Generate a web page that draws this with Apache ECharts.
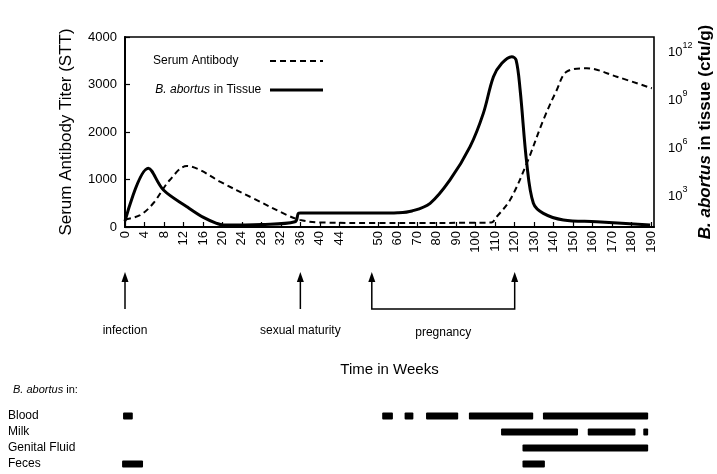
<!DOCTYPE html>
<html><head><meta charset="utf-8">
<script src="https://cdn.jsdelivr.net/npm/echarts@6/dist/echarts.min.js"></script>
<style>html,body{margin:0;padding:0;background:#fff}#c{width:717px;height:474px}</style>
</head><body><div id="c"></div>
<script>
// ---- data ----
const tickWeeks = [0,4,8,12,16,20,24,28,32,36,40,44,50,60,70,80,90,100,110,120,130,140,150,160,170,180,190];
const titerTicks = [0,1000,2000,3000,4000];
const cfuTickExponents = [3,6,9,12];

const serumWeeks = [0,3.1,5.8,9.2,12.7,15.4,19.5,26.3,33.2,35.9,40,50,70,100,108,110.8,117.6,126.2,134.7,141.6,146.7,157,172.4,190.4];
const serumTiter = [160,250,500,990,1285,1200,955,605,255,150,95,85,85,90,95,217,568,1340,2253,2884,3270,3340,3164,2920];

const tissueWeeks = [0,4.8,7.9,12.7,16.1,18.8,20.2,28,34.9,35.6,36,50,60,67.3,76.6,86.8,97.1,103.9,109.1,113.4,118.5,120.7,122.8,126.2,129.6,134.7,145,162,189.5];
const tissueLogCfu = [1.3,4.61,3.25,2.21,1.54,1.17,1.06,1.1,1.27,1.79,1.81,1.81,1.83,1.94,2.42,3.88,5.96,8.04,10.33,11.17,11.58,11.38,9.5,4.92,2.42,1.79,1.38,1.27,1.06];

const sheddingSites = ['Blood','Milk','Genital Fluid','Feces'];
const bloodPeriods = [[-0.4,1.6],[52,57.5],[63.5,68],[74.5,91],[96.5,129.5],[134.5,188.5]];
const milkPeriods = [[113,152.5],[157.5,182],[186,188.5]];
const genitalPeriods = [[124,188.5]];
const fecesPeriods = [[-0.6,3.7],[124,135.5]];

const eventNames = ['infection','sexual maturity'];
const eventWeeks = [0,36];
const pregnancyWeeks = [49,120];

// ---- axis mapping: broken week axis (4-week slots to 44, 10-week slots from 50) ----
function weekToSlot(w){
  if (w <= 44) return w/4;
  if (w <= 50) return 11 + (w-44)/3;
  return 13 + (w-50)/10;
}
const tickSlots = tickWeeks.map(weekToSlot);
const labelBySlot = {};
tickWeeks.forEach(w => { labelBySlot[weekToSlot(w).toFixed(3)] = String(w); });

const FONT = "'Liberation Sans', Arial, sans-serif";
const X_MIN = 0, X_MAX = 27.15;
const GL = 125, GR = 63;

const shedding = [];
[bloodPeriods, milkPeriods, genitalPeriods, fecesPeriods].forEach((list, r) => {
  list.forEach(p => shedding.push([r, weekToSlot(p[0]), weekToSlot(p[1])]));
});

const chart = echarts.init(document.getElementById('c'), null, {renderer:'canvas'});
const hiddenX = (gi) => ({type:'value', gridIndex:gi, min:X_MIN, max:X_MAX, show:false});
const gridBase = {left:GL, right:GR, containLabel:false, outerBoundsMode:'none'};

chart.setOption({
  animation:false,
  backgroundColor:'#fff',
  textStyle:{fontFamily:FONT, color:'#000'},
  grid:[
    Object.assign({top:37, height:190, show:true, borderColor:'#000', borderWidth:1.6}, gridBase),
    Object.assign({top:272, height:37}, gridBase),
    Object.assign({top:408, height:64}, gridBase)
  ],
  title:{
    text:'{i|B. abortus} in:', left:8, top:379,
    textStyle:{fontSize:11, fontWeight:'normal', color:'#000', fontFamily:FONT,
      rich:{i:{fontStyle:'italic', fontSize:11, fontFamily:FONT, color:'#000'}}}
  },
  legend:{
    left:148, top:50, orient:'vertical', align:'right', itemGap:17,
    itemWidth:53, itemHeight:14,
    itemStyle:{opacity:0},
    data:[
      {name:'Serum Antibody', lineStyle:{width:2}},
      {name:'B. abortus in Tissue', lineStyle:{width:3.2}}
    ],
    formatter: n => n === 'Serum Antibody' ? '{t|Serum Antibody}' : '{i|B. abortus}{u|in Tissue}',
    textStyle:{fontSize:12, color:'#000', fontFamily:FONT,
      rich:{
        t:{width:112, align:'left', fontSize:12, fontFamily:FONT, color:'#000'},
        i:{fontStyle:'italic', fontSize:12, fontFamily:FONT, color:'#000'},
        u:{width:55, align:'left', fontSize:12, fontFamily:FONT, color:'#000'}
      }}
  },
  xAxis:[
    {type:'value', gridIndex:0, min:X_MIN, max:X_MAX,
     name:'Time in Weeks', nameLocation:'middle', nameGap:135,
     nameTextStyle:{fontSize:15, color:'#000', fontFamily:FONT},
     splitLine:{show:false},
     axisLine:{lineStyle:{color:'#000', width:2}},
     axisTick:{inside:true, length:5, customValues:tickSlots, lineStyle:{color:'#000', width:1.2}},
     axisLabel:{customValues:tickSlots, rotate:90, margin:4, fontSize:13, color:'#000', fontFamily:FONT,
       formatter: v => labelBySlot[Number(v).toFixed(3)] ?? ''}
    },
    hiddenX(1), hiddenX(2)
  ],
  yAxis:[
    {type:'value', gridIndex:0, min:0, max:4000, interval:1000, position:'left',
     name:'Serum Antibody Titer (STT)', nameLocation:'middle', nameRotate:90, nameGap:50,
     nameTextStyle:{fontSize:17, color:'#000', fontFamily:FONT},
     splitLine:{show:false},
     axisLine:{show:true, lineStyle:{color:'#000', width:2}},
     axisTick:{show:true, inside:true, length:5, lineStyle:{color:'#000', width:1.2}},
     axisLabel:{fontSize:13, margin:8, color:'#000', fontFamily:FONT, formatter: v => String(v)}
    },
    {type:'value', gridIndex:0, min:0.94, max:12.81, position:'right',
     name:'{i|B. abortus} in tissue (cfu/g)', nameLocation:'middle', nameRotate:90, nameGap:43,
     nameMoveOverlap:false,
     nameTextStyle:{fontSize:17, fontWeight:'bold', color:'#000', fontFamily:FONT,
       rich:{i:{fontSize:17, fontWeight:'bold', fontStyle:'italic', color:'#000', fontFamily:FONT}}},
     splitLine:{show:false}, axisLine:{show:false}, axisTick:{show:false},
     axisLabel:{customValues:cfuTickExponents, margin:14, color:'#000', fontFamily:FONT,
       formatter: v => '{b|10}{s|' + v + '}',
       rich:{b:{fontSize:13, lineHeight:18, verticalAlign:'bottom', fontFamily:FONT, color:'#000'},
             s:{fontSize:9, lineHeight:18, verticalAlign:'top', fontFamily:FONT, color:'#000'}}}
    },
    {type:'value', gridIndex:1, min:0, max:1, show:false},
    {type:'category', gridIndex:2, data:sheddingSites, inverse:true,
     axisLine:{show:false}, axisTick:{show:false}, splitLine:{show:false},
     axisLabel:{align:'left', margin:117, fontSize:12, color:'#000', fontFamily:FONT}
    }
  ],
  series:[
    {name:'Serum Antibody', type:'line', xAxisIndex:0, yAxisIndex:0, symbol:'none',
     smooth:0.35,
     lineStyle:{color:'#000', width:2, type:[6,4]}, itemStyle:{color:'#000'},
     data: serumWeeks.map((w,i) => [weekToSlot(w), serumTiter[i]])},
    {name:'B. abortus in Tissue', type:'line', xAxisIndex:0, yAxisIndex:1, symbol:'none',
     smooth:0.35,
     lineStyle:{color:'#000', width:3}, itemStyle:{color:'#000'},
     data: tissueWeeks.map((w,i) => [weekToSlot(w), tissueLogCfu[i]])},
    {type:'custom', xAxisIndex:1, yAxisIndex:2, silent:true,
     data: eventWeeks.map((w,i) => [weekToSlot(w), i]),
     renderItem:(params, api) => {
       const x = api.value(0);
       const top = api.coord([x,1]), bot = api.coord([x,0]);
       return {type:'group', children:[
         {type:'line', shape:{x1:top[0], y1:top[1]+8, x2:bot[0], y2:bot[1]}, style:{stroke:'#000', lineWidth:1.5}},
         {type:'polygon', shape:{points:[[top[0],top[1]],[top[0]-3.5,top[1]+10],[top[0]+3.5,top[1]+10]]}, style:{fill:'#000'}},
         {type:'text', x:bot[0], y:bot[1]+22, style:{text:eventNames[api.value(1)], align:'center', verticalAlign:'middle', fontSize:12, fontFamily:FONT, fill:'#000'}}
       ]};
     }},
    {type:'custom', xAxisIndex:1, yAxisIndex:2, silent:true,
     data: [[weekToSlot(pregnancyWeeks[0]), weekToSlot(pregnancyWeeks[1])]],
     renderItem:(params, api) => {
       const a = api.value(0), b = api.value(1);
       const ta = api.coord([a,1]), ba = api.coord([a,0]);
       const tb = api.coord([b,1]), bb = api.coord([b,0]);
       const arrow = (p) => ({type:'polygon', shape:{points:[[p[0],p[1]],[p[0]-3.5,p[1]+10],[p[0]+3.5,p[1]+10]]}, style:{fill:'#000'}});
       return {type:'group', children:[
         {type:'polyline', shape:{points:[[ta[0],ta[1]+8],[ba[0],ba[1]],[bb[0],bb[1]],[tb[0],tb[1]+8]]}, style:{stroke:'#000', lineWidth:1.5, fill:null}},
         arrow(ta), arrow(tb),
         {type:'text', x:(ba[0]+bb[0])/2, y:ba[1]+24, style:{text:'pregnancy', align:'center', verticalAlign:'middle', fontSize:12, fontFamily:FONT, fill:'#000'}}
       ]};
     }},
    {type:'custom', xAxisIndex:2, yAxisIndex:3, silent:true,
     encode:{x:[1,2], y:0},
     data: shedding,
     renderItem:(params, api) => {
       const r = api.value(0);
       const s = api.coord([api.value(1), r]), e = api.coord([api.value(2), r]);
       return {type:'rect', shape:{x:s[0], y:s[1]-3.5, width:e[0]-s[0], height:7, r:1}, style:{fill:'#000'}};
     }}
  ]
});
</script></body></html>
